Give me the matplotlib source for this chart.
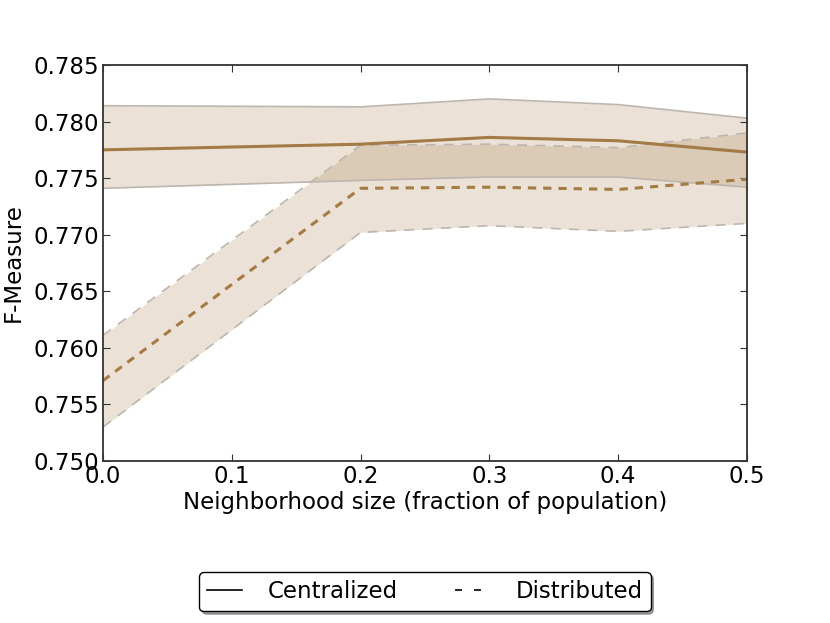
import matplotlib
matplotlib.use('Agg')
import matplotlib.pyplot as plt
from matplotlib.lines import Line2D

# neighborhood sizes
x = [0.0, 0.2, 0.3, 0.4, 0.5]

# Centralized: mean and band
cen_mean = [0.7775, 0.7780, 0.7786, 0.7783, 0.7773]
cen_hi = [0.7814, 0.7813, 0.7820, 0.7815, 0.7803]
cen_lo = [0.7741, 0.7748, 0.7751, 0.7751, 0.7742]

# Distributed: mean and band
dis_mean = [0.7571, 0.7741, 0.7742, 0.7740, 0.7749]
dis_hi = [0.7611, 0.7779, 0.7780, 0.7777, 0.7790]
dis_lo = [0.7530, 0.7702, 0.7708, 0.7703, 0.7710]

line_col = '#A47A45'
band_col = '#A47A45'
edge_col = '#BDB6AF'
fs = 16.5

fig = plt.figure(figsize=(8.3, 6.23), dpi=100)
ax = fig.add_axes([0.124, 0.26, 0.776, 0.6357])

ax.fill_between(x, cen_lo, cen_hi, color=band_col, alpha=0.22, lw=0)
ax.plot(x, cen_hi, color=edge_col, lw=1.2)
ax.plot(x, cen_lo, color=edge_col, lw=1.2)
ax.fill_between(x, dis_lo, dis_hi, color=band_col, alpha=0.22, lw=0)
ax.plot(x, dis_hi, color=edge_col, lw=1.2, ls=(0, (6, 5)))
ax.plot(x, dis_lo, color=edge_col, lw=1.2, ls=(0, (6, 5)))

ax.plot(x, cen_mean, color=line_col, lw=2.2)
ax.plot(x, dis_mean, color=line_col, lw=2.2, ls=(0, (2.7, 2.3)))

ax.set_xlim(0.0, 0.5)
ax.set_ylim(0.750, 0.785)
ax.set_xticks([0.0, 0.1, 0.2, 0.3, 0.4, 0.5])
ax.set_yticks([0.750, 0.755, 0.760, 0.765, 0.770, 0.775, 0.780, 0.785])
ax.xaxis.set_major_formatter(matplotlib.ticker.FormatStrFormatter('%.1f'))
ax.yaxis.set_major_formatter(matplotlib.ticker.FormatStrFormatter('%.3f'))
ax.tick_params(direction='in', top=True, right=True, labelsize=fs, length=5,
               color='#333333', pad=3)
for s in ax.spines.values():
    s.set_color('#333333')
    s.set_linewidth(1.3)

ax.set_xlabel('Neighborhood size (fraction of population)', fontsize=fs,
              labelpad=2)
ax.set_ylabel('F-Measure', fontsize=fs, labelpad=6)

handles = [Line2D([], [], color='black', lw=1.2),
           Line2D([], [], color='black', lw=1.2, ls=(0, (4.2, 7.2)))]
leg = ax.legend(handles, ['Centralized', 'Distributed'], loc='upper center',
                bbox_to_anchor=(0.5, -0.252), ncol=2, fontsize=fs,
                handlelength=1.53, handletextpad=1.1, columnspacing=2.5,
                borderpad=0.35, shadow=True, fancybox=True, framealpha=1)
leg.get_frame().set_edgecolor('black')

fig.savefig('out.png', dpi=100)
